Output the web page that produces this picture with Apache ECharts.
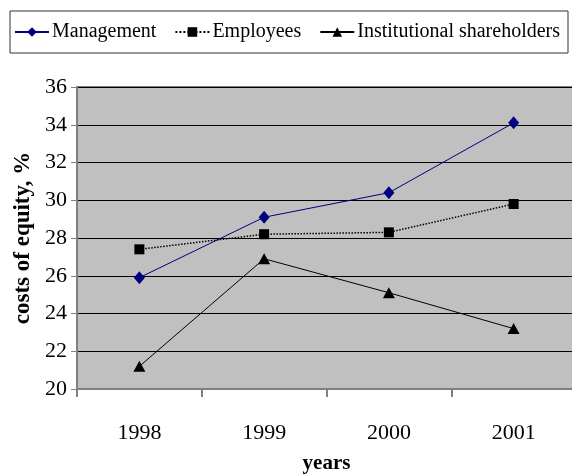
<!DOCTYPE html>
<html>
<head>
<meta charset="utf-8">
<script src="https://cdn.jsdelivr.net/npm/echarts@6/dist/echarts.min.js"></script>
<style>
  html, body { margin: 0; padding: 0; background: #fff; }
  #chart { width: 572px; height: 474px; }
</style>
</head>
<body>
<div id="chart"></div>
<script>
var years = ["1998", "1999", "2000", "2001"];
var management = [25.9, 29.1, 30.4, 34.1];
var employees = [27.4, 28.2, 28.3, 29.8];
var institutional = [21.2, 26.9, 25.1, 23.2];

var serif = "'Liberation Serif', 'DejaVu Serif', serif";
var chart = echarts.init(document.getElementById("chart"));

chart.setOption({
  animation: false,
  legend: {
    top: 11,
    left: 10,
    width: 560,
    padding: [11, 8, 11, 4],
    borderColor: "#333",
    borderWidth: 1,
    itemGap: 18,
    itemWidth: 34,
    itemHeight: 12,
    textStyle: { fontFamily: serif, fontSize: 20, color: "#000", padding: [0, 0, 0, -2] },
    data: ["Management", "Employees", "Institutional shareholders"]
  },
  grid: {
    left: 77,
    right: -4,
    top: 87,
    bottom: 85,
    outerBoundsMode: "none",
    containLabel: false,
    show: true,
    backgroundColor: "#c0c0c0",
    borderColor: "#808080",
    borderWidth: 2
  },
  xAxis: {
    type: "category",
    data: years,
    boundaryGap: true,
    name: "years",
    nameLocation: "middle",
    nameGap: 64,
    nameTextStyle: { fontFamily: serif, fontSize: 21, fontWeight: "bold", color: "#000" },
    axisLine: { lineStyle: { color: "#808080", width: 2 } },
    axisTick: { show: true, alignWithLabel: false, length: 8, lineStyle: { color: "#808080", width: 2 } },
    axisLabel: { fontFamily: serif, fontSize: 22, color: "#000", margin: 33 }
  },
  yAxis: {
    type: "value",
    min: 20,
    max: 36,
    interval: 2,
    name: "costs of equity, %",
    nameLocation: "middle",
    nameGap: 33,
    nameTextStyle: { fontFamily: serif, fontSize: 23, fontWeight: "bold", color: "#000" },
    axisLine: { show: true, lineStyle: { color: "#808080", width: 2 } },
    axisTick: { show: true, length: 6, lineStyle: { color: "#808080" } },
    axisLabel: { fontFamily: serif, fontSize: 22, color: "#000", margin: 10 },
    splitLine: { show: true, lineStyle: { color: "#000", width: 1 } }
  },
  series: [
    {
      name: "Management",
      type: "line",
      data: management,
      symbol: "diamond",
      symbolSize: [11, 13],
      itemStyle: { color: "#000080" },
      lineStyle: { color: "#000080", width: 1 }
    },
    {
      name: "Employees",
      type: "line",
      data: employees,
      symbol: "rect",
      symbolSize: 10,
      itemStyle: { color: "#000" },
      lineStyle: { color: "#000", width: 1.5, type: "dotted" }
    },
    {
      name: "Institutional shareholders",
      type: "line",
      data: institutional,
      symbol: "triangle",
      symbolSize: [12, 11],
      itemStyle: { color: "#000" },
      lineStyle: { color: "#000", width: 1 }
    }
  ]
});
</script>
</body>
</html>
